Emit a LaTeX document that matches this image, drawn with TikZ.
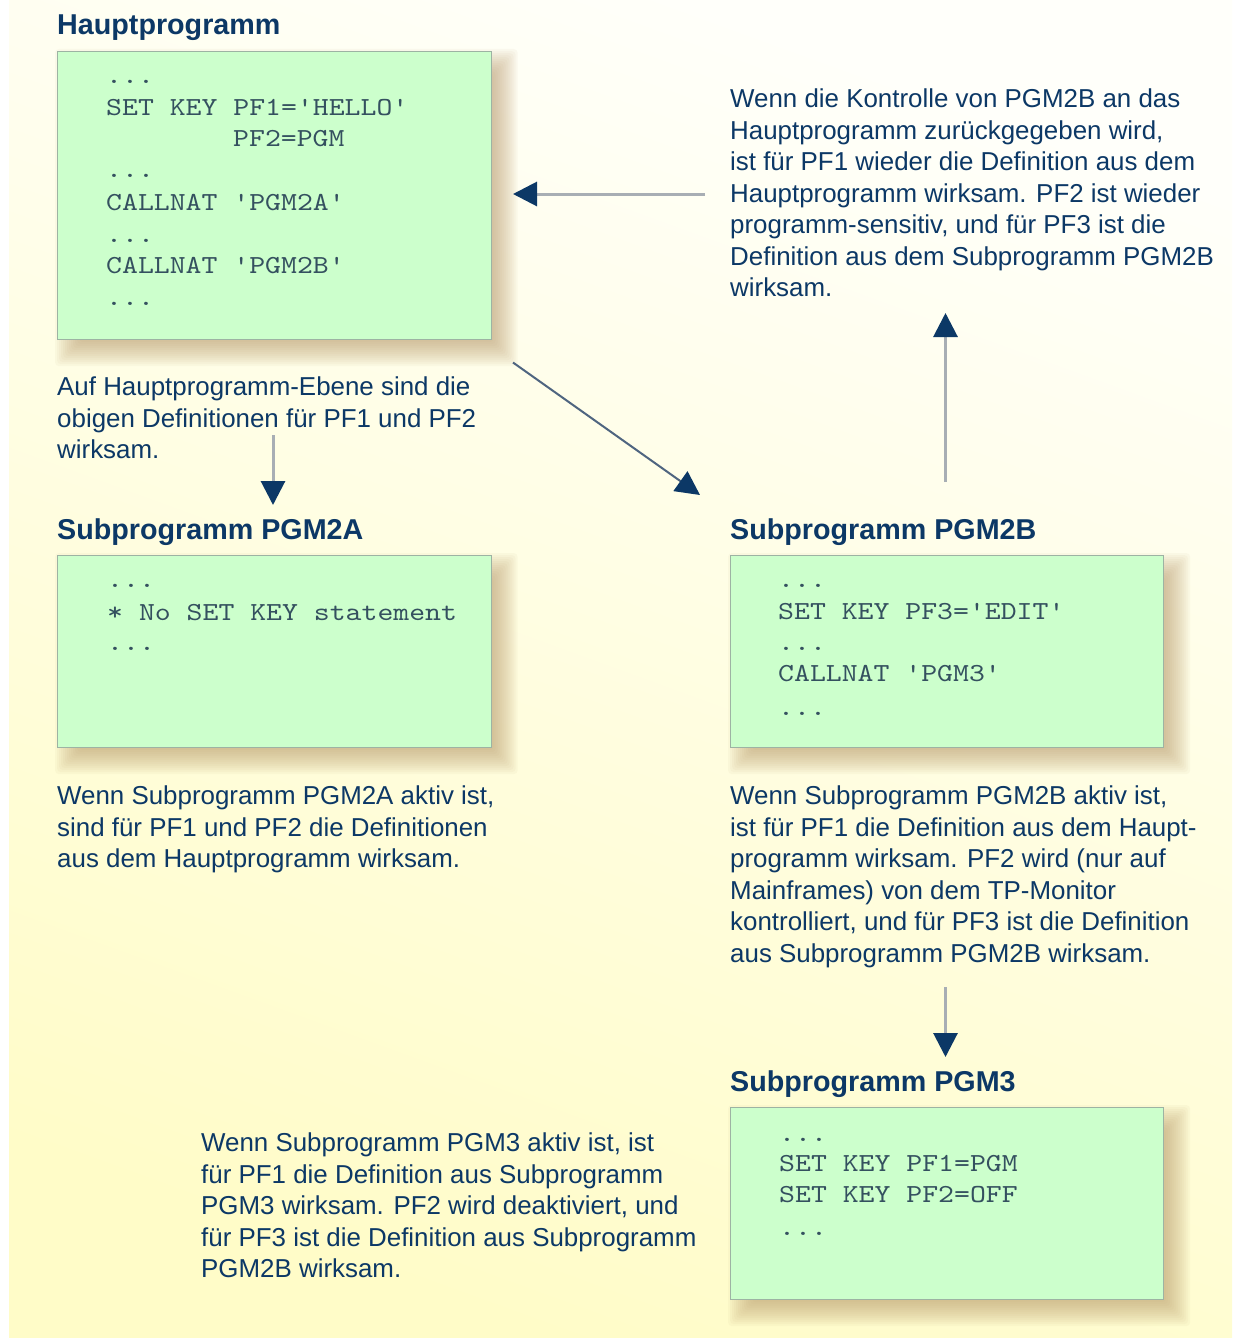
\documentclass[tikz,border=0pt]{standalone}
\usepackage{fontspec}
\setmainfont{Liberation Sans}
\setmonofont{lmmono10-regular.otf}[FakeStretch=1.165]
\usetikzlibrary{arrows.meta,calc}
\definecolor{txtblue}{HTML}{0C3866}
\definecolor{codecol}{HTML}{34505F}
\definecolor{boxfill}{HTML}{CCFFCC}
\definecolor{boxborder}{HTML}{9DB3A3}
\definecolor{arrowgray}{HTML}{A8AEB4}
\definecolor{diaggray}{HTML}{4F6580}
\definecolor{shadowcol}{HTML}{B89868}
\definecolor{bgtop}{HTML}{FFFFFA}
\definecolor{bgbot}{HTML}{FFFCC8}
\pgfdeclarelayer{bg}
\pgfdeclarelayer{shadow}
\pgfsetlayers{bg,shadow,main}
\newcommand\boxshadow[1]{%
  \begin{pgfonlayer}{shadow}
  \foreach \e in {-12,-10,...,14}{
    \fill[shadowcol, fill opacity=0.06, rounded corners=4pt]
      ($(#1.north west)+({12-(\e)},{12-(\e)})$) rectangle ($(#1.south east)+({12+(\e)},{12+(\e)})$);
  }
  \end{pgfonlayer}}
\tikzset{
  body/.style={font=\fontsize{25.9}{31.5}\selectfont, text=txtblue, anchor=base west, align=left, inner sep=0pt},
  ttl/.style={font=\fontsize{28.7}{34}\selectfont\bfseries, text=txtblue, anchor=base west, inner sep=0pt},
  code/.style={font=\ttfamily\fontsize{26}{31}\selectfont, text=codecol, anchor=base west, inner sep=0pt},
  codebox/.style={draw=boxborder, line width=1.2pt, fill=boxfill, anchor=north west, inner sep=0pt},
  conn/.style={draw=arrowgray, line width=3pt, -{Triangle[length=24pt,width=24pt,color=txtblue]}},
  diag/.style={draw=diaggray, line width=2pt, -{Triangle[length=24pt,width=24pt,color=txtblue]}},
}
\begin{document}
\begin{tikzpicture}[x=1pt,y=-1pt]
\useasboundingbox (0,0) rectangle (1232,1338);
\begin{pgfonlayer}{bg}
  \fill[white] (0,0) rectangle (1232,1338);
  \shade[top color=bgtop, bottom color=bgbot, shading angle=-20] (9,0) rectangle (1232,1338);
\end{pgfonlayer}

% titles
\node[ttl] (t1) at (57,35) {Hauptprogramm};
\node[ttl] (t2) at (57,539) {Subprogramm PGM2A};
\node[ttl] (t3) at (730,539) {Subprogramm PGM2B};
\node[ttl] (t4) at (730,1091) {Subprogramm PGM3};

% boxes
\node[codebox, minimum width=433.5pt, minimum height=288pt] (hp) at (57,51) {};
\node[codebox, minimum width=433.5pt, minimum height=192pt] (pa) at (57,555) {};
\node[codebox, minimum width=433pt, minimum height=192pt] (pb) at (730,555) {};
\node[codebox, minimum width=433pt, minimum height=192pt] (p3) at (730,1107) {};
\boxshadow{hp}
\boxshadow{pa}
\boxshadow{pb}
\boxshadow{p3}

% code in main program
\node[code] (h1) at (106,84) {...};
\node[code] (h2) at (106,115) {SET KEY PF1='HELLO'};
\node[code] (h3) at (233,146.5) {PF2=PGM};
\node[code] (h4) at (106,177) {...};
\node[code] (h5) at (106,210) {CALLNAT 'PGM2A'};
\node[code] (h6) at (106,242) {...};
\node[code] (h7) at (106,273.5) {CALLNAT 'PGM2B'};
\node[code] (h8) at (106,305) {...};

% code PGM2A
\node[code] (a1) at (107,587) {...};
\node[code] (a2) at (107,620) {* No SET KEY statement};
\node[code] (a3) at (107,650) {...};

% code PGM2B
\node[code] (b1) at (778,587) {...};
\node[code] (b2) at (778,619.5) {SET KEY PF3='EDIT'};
\node[code] (b3) at (778,650) {...};
\node[code] (b4) at (778,681.5) {CALLNAT 'PGM3'};
\node[code] (b5) at (778,715) {...};

% code PGM3
\node[code] (c1) at (779,1141) {...};
\node[code] (c2) at (779,1171.5) {SET KEY PF1=PGM};
\node[code] (c3) at (779,1202.5) {SET KEY PF2=OFF};
\node[code] (c4) at (779,1235) {...};

% explanatory texts (anchor = baseline of the last line)
\node[body] (ret) at (730,296.5) {Wenn die Kontrolle von PGM2B an das\\
Hauptprogramm zurückgegeben wird,\\
ist für PF1 wieder die Definition aus dem\\
Hauptprogramm wirksam. PF2 ist wieder\\
programm-sensitiv, und für PF3 ist die\\
Definition aus dem Subprogramm PGM2B\\
wirksam.};
\node[body] (ebene) at (57,458.5) {Auf Hauptprogramm-Ebene sind die\\
obigen Definitionen für PF1 und PF2\\
wirksam.};
\node[body] (ta) at (57,867.5) {Wenn Subprogramm PGM2A aktiv ist,\\
sind für PF1 und PF2 die Definitionen\\
aus dem Hauptprogramm wirksam.};
\node[body] (tb) at (730,962) {Wenn Subprogramm PGM2B aktiv ist,\\
ist für PF1 die Definition aus dem Haupt-\\
programm wirksam. PF2 wird (nur auf\\
Mainframes) von dem TP-Monitor\\
kontrolliert, und für PF3 ist die Definition\\
aus Subprogramm PGM2B wirksam.};
\node[body] (t3txt) at (201,1277.5) {Wenn Subprogramm PGM3 aktiv ist, ist\\
für PF1 die Definition aus Subprogramm\\
PGM3 wirksam. PF2 wird deaktiviert, und\\
für PF3 ist die Definition aus Subprogramm\\
PGM2B wirksam.};

% arrow end points
\coordinate (r1) at (705,194);
\coordinate (r2) at (513,194);
\coordinate (u1) at (945.5,482);
\coordinate (u2) at (945.5,313);
\coordinate (d1) at (513,362.5);
\coordinate (d2) at (700,495);
\coordinate (l1) at (273,435);
\coordinate (l2) at (273,505);
\coordinate (m1) at (945.5,987);
\coordinate (m2) at (945.5,1057);

\draw[conn] (r1) -- (r2);
\draw[conn] (u1) -- (u2);
\draw[diag] (d1) -- (d2);
\draw[conn] (l1) -- (l2);
\draw[conn] (m1) -- (m2);
\end{tikzpicture}
\end{document}
